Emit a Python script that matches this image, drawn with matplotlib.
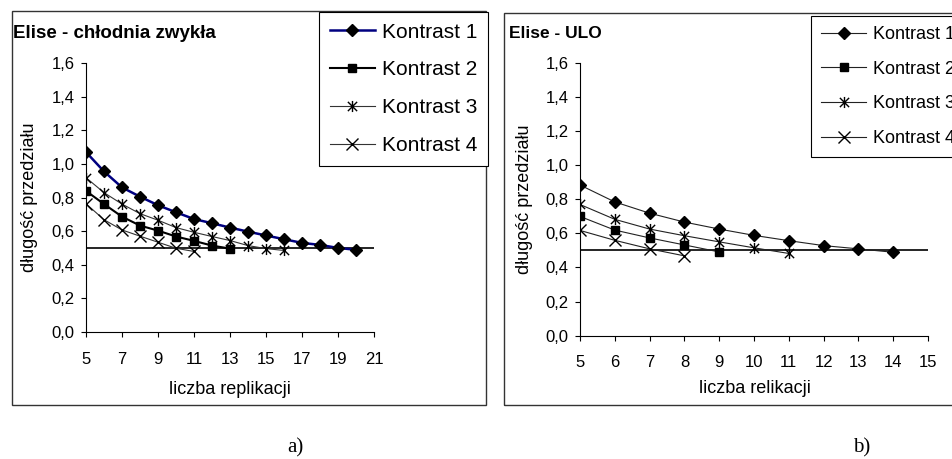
import numpy as np
import matplotlib
matplotlib.use('Agg')
import matplotlib.pyplot as plt
from matplotlib.patches import Rectangle
from matplotlib.path import Path

plt.rcParams['font.family'] = ['Liberation Sans', 'DejaVu Sans']

# Dane - panel a) chłodnia zwykła
x_a = np.arange(5, 21)
k1_a = [1.07, 0.955, 0.86, 0.805, 0.754, 0.712, 0.672, 0.647, 0.621, 0.597, 0.574, 0.552, 0.530, 0.518, 0.500, 0.489]
k2_a = [0.839, 0.761, 0.686, 0.633, 0.603, 0.568, 0.542, 0.514, 0.496]
k3_a = [0.918, 0.829, 0.761, 0.704, 0.665, 0.621, 0.593, 0.568, 0.544, 0.514, 0.496, 0.485]
k4_a = [0.763, 0.668, 0.607, 0.570, 0.534, 0.498, 0.479]
ref_a = [5, 21]

# Dane - panel b) ULO
x_b = np.arange(5, 15)
k1_b = [0.883, 0.784, 0.718, 0.666, 0.625, 0.588, 0.557, 0.528, 0.509, 0.489]
k2_b = [0.699, 0.619, 0.573, 0.532, 0.491]
k3_b = [0.769, 0.682, 0.625, 0.586, 0.550, 0.515, 0.482]
k4_b = [0.617, 0.559, 0.509, 0.468]
ref_b = [5, 15]

labels = ['Kontrast 1', 'Kontrast 2', 'Kontrast 3', 'Kontrast 4']
yticks = [0.0, 0.2, 0.4, 0.6, 0.8, 1.0, 1.2, 1.4, 1.6]

# Gwiazdka w stylu Excela
star = Path([(-1, -1), (1, 1), (-1, 1), (1, -1), (0, -1.2), (0, 1.2)],
            [Path.MOVETO, Path.LINETO, Path.MOVETO, Path.LINETO, Path.MOVETO, Path.LINETO])

W, H = 952, 459
fig = plt.figure(figsize=(W / 100, H / 100), dpi=100)


def fx(px):
    return px / W


def fy(py):
    return 1 - py / H


# Ramki paneli
for x0, x1, y0 in [(12, 486, 11), (504, 1000, 13)]:
    fig.add_artist(Rectangle((fx(x0), fy(405)), fx(x1 - x0), (405 - y0) / H,
                             transform=fig.transFigure, fill=False,
                             edgecolor='#333333', linewidth=1.0))


def style_axes(ax, xmin, xmax, xticks):
    ax.set_xlim(xmin, xmax)
    ax.set_ylim(0, 1.6)
    ax.set_xticks(xticks)
    ax.set_yticks(yticks)
    ax.set_yticklabels([f'{v:.1f}'.replace('.', ',') for v in yticks])
    ax.spines['top'].set_visible(False)
    ax.spines['right'].set_visible(False)
    ax.spines['left'].set_linewidth(0.8)
    ax.spines['bottom'].set_linewidth(0.8)
    ax.tick_params(direction='out', length=3.6, width=0.8, labelsize=12)
    ax.tick_params(axis='y', pad=4.5)
    ax.tick_params(axis='x', pad=10.5)
    ax.patch.set_alpha(0)


def plot_series(ax, xs, series, colors, widths, ref):
    handles = []
    ms = [dict(marker='D', markersize=6.5), dict(marker='s', markersize=6),
          dict(marker=star, markersize=8), dict(marker='x', markersize=8)]
    for s, c, w, m in zip(series, colors, widths, ms):
        h, = ax.plot(xs[:len(s)], s, color=c, linewidth=w, markerfacecolor='black',
                     markeredgecolor='black', markeredgewidth=1.0, zorder=3, **m)
        handles.append(h)
    ax.plot(ref, [0.5, 0.5], color='black', linewidth=1.2, zorder=2)
    return handles


# Panel a)
ax1 = fig.add_axes([fx(86), fy(332), fx(374 - 86), (332 - 63) / H])
style_axes(ax1, 5, 21, range(5, 22, 2))
h1 = plot_series(ax1, x_a, [k1_a, k2_a, k3_a, k4_a],
                 ['#000080', 'black', '#333333', '#333333'], [1.8, 1.5, 0.8, 0.8], ref_a)
ax1.set_ylabel('długość przedziału', fontsize=13)
ax1.set_xlabel('liczba replikacji', fontsize=13)
ax1.yaxis.set_label_coords(-0.167, 0.5)
ax1.xaxis.set_label_coords(0.5, -0.182)
fig.text(fx(13), fy(33), 'Elise - chłodnia zwykła', fontsize=13.5, fontweight='bold', va='center')
leg1 = fig.legend(h1, labels, loc='upper left', bbox_to_anchor=(fx(319), fy(12)),
                  frameon=True, fancybox=False, edgecolor='black', framealpha=1,
                  fontsize=15, handlelength=2.16, labelspacing=0.9, borderpad=0.51,
                  handletextpad=0.34, borderaxespad=0)
leg1.get_frame().set_linewidth(0.8)

# Panel b)
ax2 = fig.add_axes([fx(580), fy(335.7), fx(928 - 580), (335.7 - 62.7) / H])
style_axes(ax2, 5, 15, range(5, 16))
h2 = plot_series(ax2, x_b, [k1_b, k2_b, k3_b, k4_b],
                 ['#222222'] * 4, [0.8] * 4, ref_b)
ax2.set_ylabel('długość przedziału', fontsize=13)
ax2.set_xlabel('liczba relikacji', fontsize=13)
ax2.yaxis.set_label_coords(-0.135, 0.5)
ax2.xaxis.set_label_coords(0.503, -0.163)
fig.text(fx(509), fy(33), 'Elise - ULO', fontsize=12.5, fontweight='bold', va='center')
leg2 = fig.legend(h2, labels, loc='upper left', bbox_to_anchor=(fx(811), fy(16)),
                  frameon=True, fancybox=False, edgecolor='black', framealpha=1,
                  fontsize=13, handlelength=2.5, labelspacing=0.98, borderpad=0.55,
                  handletextpad=0.39, borderaxespad=0)
leg2.get_frame().set_linewidth(0.8)

# Podpisy
fig.text(fx(295), fy(448), 'a)', fontsize=15, family=['Liberation Serif'], ha='center', va='center')
fig.text(fx(862), fy(448), 'b)', fontsize=15, family=['Liberation Serif'], ha='center', va='center')

fig.savefig('out.png', dpi=100)
